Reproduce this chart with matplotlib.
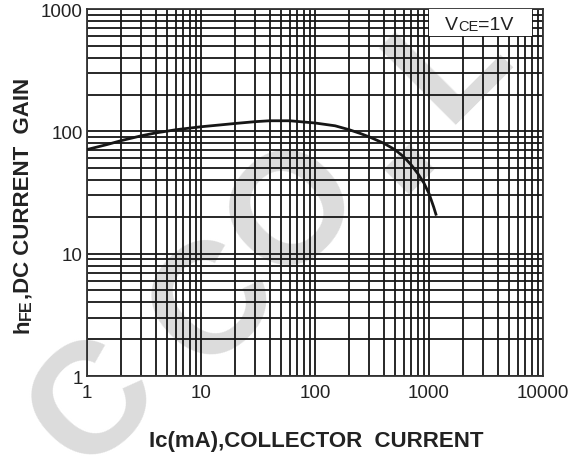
import matplotlib
matplotlib.use("Agg")
import matplotlib.pyplot as plt
import matplotlib.patches as patches

plt.rcParams['font.family'] = 'Liberation Sans'

# curve
ic_ma = [1, 1.5, 2, 3, 4, 6, 10, 15, 20, 30, 40, 60, 100, 150, 200, 250,
         300, 400, 500, 600, 700, 800, 900, 1000, 1100, 1150]
hfe = [71, 78, 84, 92, 97, 103, 109, 113, 116, 120, 122, 122, 117, 111, 103, 96,
       90, 80, 71, 62, 53, 45, 38, 31, 24, 21]

x_ticks = [1, 10, 100, 1000, 10000]
x_tick_labels = ["1", "10", "100", "1000", "10000"]
y_ticks = [1, 10, 100, 1000]
y_tick_labels = ["1", "10", "100", "1000"]

# light grey watermark letters (pixel centre, char)
wm_letters = ["C", "C", "O", "L"]
wm_px = [(95, 405), (215, 305), (295, 212), (451, 62)]

W, H = 586, 460
INK = "#222222"
fig = plt.figure(figsize=(W / 100, H / 100), dpi=100)
fig.patch.set_facecolor("white")

for ch, (px, py) in zip(wm_letters, wm_px):
    fig.text(px / W, 1 - py / H, ch, fontsize=114, fontweight="bold",
             color="#dcdcdc", rotation=45, ha="center", va="center",
             rotation_mode="anchor", zorder=-5)
fig.text(407 / W, 1 - 165 / H, "\u25a0", family="DejaVu Sans", fontsize=34,
         color="#dcdcdc", rotation=45, ha="center", va="center",
         rotation_mode="anchor", zorder=-5)

ax = fig.add_axes([87 / W, 1 - 377 / H, (543 - 87) / W, (377 - 10) / H])
ax.set_facecolor("none")
ax.set_xscale("log")
ax.set_yscale("log")
ax.set_xlim(1, 10000)
ax.set_ylim(1, 1000)

ax.grid(True, which="both", color="#161616", linewidth=1.3)
ax.set_axisbelow(True)

ax.plot(ic_ma, hfe, color="#161616", linewidth=2.0, zorder=4)

ax.set_xticks(x_ticks)
ax.set_xticklabels(x_tick_labels)
ax.set_yticks(y_ticks)
ax.set_yticklabels(y_tick_labels)
ax.tick_params(which="both", length=0, labelsize=13.5, colors=INK)
ax.tick_params(axis="x", pad=6)
ax.tick_params(axis="y", pad=3)
for s in ax.spines.values():
    s.set_color("#333333")
    s.set_linewidth(1.3)

# condition box, white patch over the grid
box = patches.Rectangle((0.75, 0.926), 0.226, 0.074, transform=ax.transAxes,
                        facecolor="white", edgecolor="none", zorder=5)
ax.add_patch(box)
t1 = ax.text(0.785, 0.935, "V", transform=ax.transAxes, fontsize=14,
             ha="left", va="bottom", color=INK, zorder=6)
t2 = ax.annotate("CE", xy=(1, 0), xycoords=t1, fontsize=10.5,
                 ha="left", va="bottom", color=INK, zorder=6)
ax.annotate("=1V", xy=(1, 0), xycoords=t2, fontsize=14,
            ha="left", va="bottom", color=INK, zorder=6)

# y label: "h" + small "FE" + rest, stacked upward
y1 = fig.text(34 / W, 1 - 333 / H, "h", rotation=90, fontsize=16,
              fontweight="bold", ha="right", va="bottom", color=INK)
y2 = ax.annotate("FE", xy=(1, 1), xycoords=y1, rotation=90, fontsize=11.5,
                 fontweight="bold", ha="right", va="bottom", color=INK,
                 annotation_clip=False)
ax.annotate(",DC CURRENT  GAIN", xy=(1, 1), xycoords=y2, rotation=90,
            fontsize=16, fontweight="bold", ha="right", va="bottom", color=INK,
            annotation_clip=False)

fig.text(316 / W, 1 - 442 / H, "Ic(mA),COLLECTOR  CURRENT",
         fontsize=16, fontweight="bold", ha="center", va="center", color=INK)

fig.savefig("out.png", dpi=100)
